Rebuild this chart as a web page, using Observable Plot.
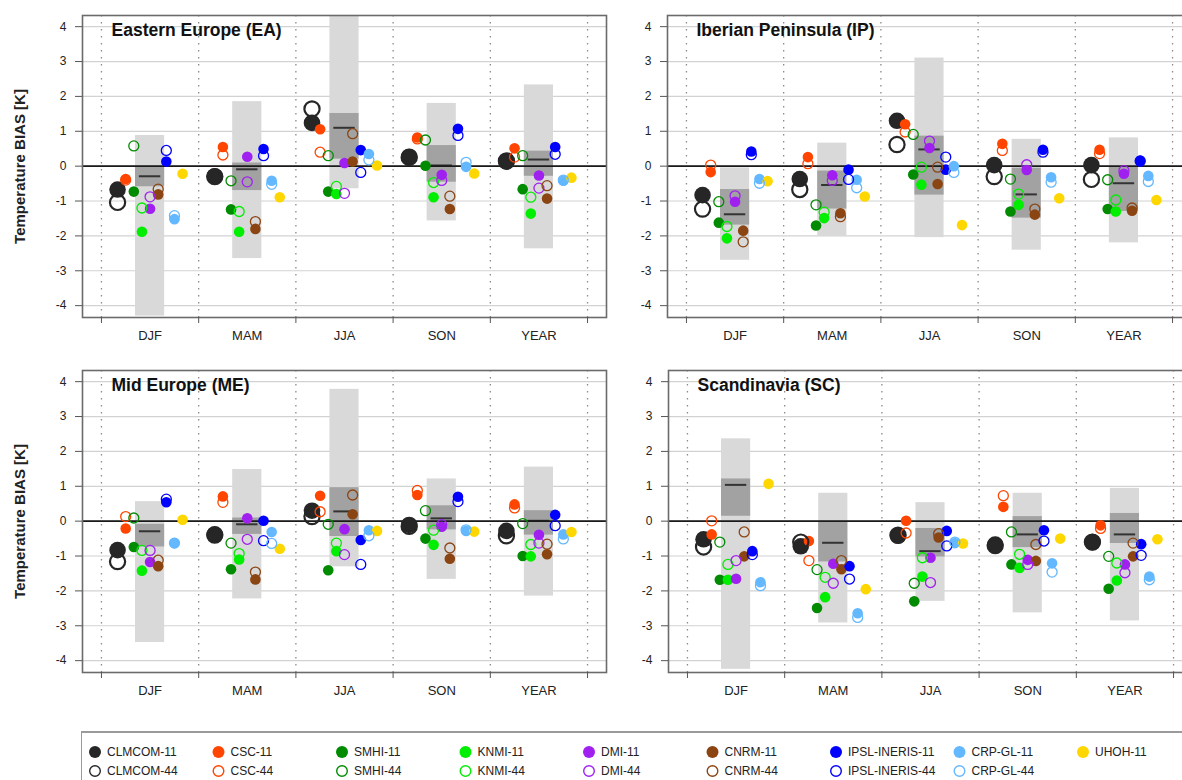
<!DOCTYPE html>
<html><head><meta charset="utf-8">
<script src="https://cdn.jsdelivr.net/npm/d3@7"></script>
<script src="https://cdn.jsdelivr.net/npm/@observablehq/plot@0.6"></script>
<style>
html,body{margin:0;padding:0;background:#fff;}
#wrap{position:relative;width:1182px;height:780px;overflow:hidden;font-family:"Liberation Sans",Arial,sans-serif;}
.panel{position:absolute;width:610px;height:350px;}
.panel svg{max-width:none !important;width:610px;height:350px;}
g[aria-label="y-axis label"] text{font-weight:bold;font-size:15px;}
#legend{position:absolute;left:81px;top:731px;width:1200px;height:60px;border-top:2px solid #9a9a9a;border-left:1px solid #9a9a9a;}
</style></head><body><div id="wrap"><div id="legend"></div></div>
<script>
// ---- data ----
const seasons = ["DJF", "MAM", "JJA", "SON", "YEAR"];
const models11 = ["CLMCOM-11", "CSC-11", "SMHI-11", "KNMI-11", "DMI-11", "CNRM-11", "IPSL-INERIS-11", "CRP-GL-11", "UHOH-11"];
const models44 = ["CLMCOM-44", "CSC-44", "SMHI-44", "KNMI-44", "DMI-44", "CNRM-44", "IPSL-INERIS-44", "CRP-GL-44"];
const modelColors = ["#262626", "#ff4500", "#008b00", "#00ee00", "#a020f0", "#8b4513", "#0000ff", "#63b8ff", "#ffd700"];
const regions = ["Eastern Europe (EA)", "Iberian Peninsula (IP)", "Mid Europe (ME)", "Scandinavia (SC)"];
const yTicks = [-4, -3, -2, -1, 0, 1, 2, 3, 4];

// values per season (rows) and model (columns)
const EA_11 = [
  [-0.67, -0.37, -0.73, -1.88, -1.22, -0.81, 0.13, -1.52, -0.22],
  [-0.29, 0.55, -1.24, -1.88, 0.27, -1.80, 0.49, -0.42, -0.89],
  [1.24, 1.06, -0.73, -0.80, 0.09, 0.13, 0.46, 0.35, 0.02],
  [0.27, 0.82, 0.01, -0.89, -0.25, -1.23, 1.07, -0.02, -0.21],
  [0.13, 0.51, -0.66, -1.36, -0.27, -0.93, 0.55, -0.42, -0.33]];
const EA_44 = [
  [-1.04, -0.40, 0.58, -1.20, -0.88, -0.66, 0.45, -1.42],
  [-0.30, 0.32, -0.42, -1.30, -0.45, -1.59, 0.30, -0.52],
  [1.64, 0.40, 0.30, -0.58, -0.78, 0.93, -0.18, 0.18],
  [0.25, 0.78, 0.75, -0.47, -0.41, -0.86, 0.88, 0.11],
  [0.15, 0.26, 0.30, -0.89, -0.63, -0.56, 0.34, -0.40]];
// [min, q1, median, q3, max]
const EA_box = [
  [-4.30, -0.59, -0.29, 0.00, 0.88],
  [-2.65, -0.70, -0.09, 0.09, 1.85],
  [-0.65, 0.20, 1.10, 1.51, 4.35],
  [-1.57, -0.46, 0.02, 0.59, 1.80],
  [-2.37, -0.29, 0.19, 0.43, 2.33]];

const IP_11 = [
  [-0.83, -0.17, -1.62, -2.07, -1.02, -1.85, 0.42, -0.37, -0.43],
  [-0.37, 0.26, -1.70, -1.49, -0.26, -1.35, -0.10, -0.39, -0.87],
  [1.30, 1.20, -0.24, -0.53, 0.52, -0.51, -0.10, 0.00, -1.69],
  [0.03, 0.64, -1.30, -1.11, -0.11, -1.39, 0.47, -0.32, -0.92],
  [0.03, 0.47, -1.23, -1.30, -0.22, -1.28, 0.16, -0.28, -0.97]];
const IP_44 = [
  [-1.23, 0.03, -1.02, -1.73, -0.85, -2.17, 0.33, -0.49],
  [-0.67, 0.07, -1.11, -1.32, -0.41, -1.45, -0.38, -0.62],
  [0.62, 0.98, 0.91, -0.03, 0.72, -0.03, 0.26, -0.18],
  [-0.30, 0.45, -0.37, -0.80, 0.04, -1.23, 0.40, -0.46],
  [-0.38, 0.36, -0.39, -0.97, -0.13, -1.20, 0.14, -0.44]];
const IP_box = [
  [-2.70, -1.69, -1.38, -0.67, -0.05],
  [-2.01, -1.23, -0.54, -0.14, 0.66],
  [-2.05, -0.83, 0.48, 0.86, 3.10],
  [-2.41, -1.49, -0.81, -0.06, 0.77],
  [-2.20, -1.30, -0.49, -0.03, 0.81]];

const ME_11 = [
  [-0.83, -0.21, -0.74, -1.42, -1.17, -1.29, 0.54, -0.63, 0.04],
  [-0.38, 0.71, -1.38, -1.10, 0.08, -1.67, 0.01, -0.31, -0.79],
  [0.30, 0.73, -1.41, -0.86, -0.23, 0.20, -0.54, -0.26, -0.28],
  [-0.11, 0.75, -0.50, -0.68, -0.16, -1.08, 0.70, -0.28, -0.30],
  [-0.28, 0.48, -1.00, -1.01, -0.39, -0.95, 0.18, -0.38, -0.31]];
const ME_44 = [
  [-1.16, 0.13, 0.09, -0.84, -0.84, -1.12, 0.63, -0.63],
  [-0.40, 0.54, -0.63, -0.93, -0.52, -1.46, -0.56, -0.64],
  [0.13, 0.27, -0.09, -0.63, -0.96, 0.75, -1.24, -0.42],
  [-0.15, 0.88, 0.30, -0.26, -0.10, -0.77, 0.56, -0.25],
  [-0.42, 0.38, -0.07, -0.67, -0.63, -0.66, -0.13, -0.51]];
const ME_box = [
  [-3.48, -0.74, -0.29, -0.09, 0.56],
  [-2.23, -0.38, -0.09, 0.09, 1.48],
  [-1.31, -0.44, 0.28, 0.96, 3.78],
  [-1.67, -0.25, 0.08, 0.44, 1.21],
  [-2.15, -0.40, 0.01, 0.30, 1.55]];

const SC_11 = [
  [-0.52, -0.38, -1.68, -1.68, -1.65, -1.01, -0.86, -1.75, 1.07],
  [-0.72, -0.57, -2.49, -2.18, -1.22, -1.38, -1.29, -2.64, -1.95],
  [-0.42, 0.01, -2.30, -1.59, -1.05, -0.47, -0.28, -0.63, -0.64],
  [-0.67, 0.41, -1.24, -1.34, -1.11, -1.14, -0.26, -1.21, -0.50],
  [-0.60, -0.12, -1.94, -1.70, -1.24, -1.01, -0.66, -1.59, -0.52]];
const SC_44 = [
  [-0.74, 0.01, -0.60, -1.24, -1.13, -0.31, -0.96, -1.85],
  [-0.60, -1.13, -1.39, -1.61, -1.78, -1.13, -1.66, -2.76],
  [-0.40, -0.34, -1.78, -1.05, -1.76, -0.36, -0.71, -0.60],
  [-0.70, 0.73, -0.31, -0.95, -1.24, -0.67, -0.57, -1.46],
  [-0.60, -0.21, -1.01, -1.20, -1.48, -0.63, -0.98, -1.68]];
const SC_box = [
  [-4.25, 0.14, 1.04, 1.21, 2.36],
  [-2.92, -1.17, -0.62, 0.00, 0.80],
  [-2.30, -1.03, -0.86, -0.21, 0.53],
  [-2.63, -0.76, -0.38, 0.13, 0.80],
  [-2.86, -0.64, -0.38, 0.22, 0.94]];

// ---- drawing ----
const step = 0.0836; // spacing of models within a season (x units)
function panel(title, v11, v44, box, showLabel) {
  const boxes = box.map((b, i) => ({i: i + 1, lo: b[0], q1: b[1], med: b[2], q3: b[3], hi: b[4]}));
  const pts11 = [], pts44 = [];
  v11.forEach((row, s) => row.forEach((v, m) => pts11.push({x: s + 1 + (m - 4) * step, y: v, c: modelColors[m], r: m === 0 ? 8.3 : 5.3})));
  v44.forEach((row, s) => row.forEach((v, m) => pts44.push({x: s + 1 + (m - 4) * step, y: v, c: modelColors[m], r: m === 0 ? 7.6 : 5.0, w: m === 0 ? 2.2 : 1.3})));
  const bounds = d3.range(0, 6).map(k => k + 0.5);
  return Plot.plot({
    width: 610, height: 350,
    marginLeft: 82, marginRight: 4, marginTop: 15, marginBottom: 33,
    style: {fontFamily: '"Liberation Sans", Arial, sans-serif', fontSize: "12px", background: "transparent", overflow: "visible", color: "#222"},
    x: {domain: [0.305, 5.695], axis: null},
    y: {domain: [-4.34, 4.32], axis: null},
    r: {type: "identity"},
    color: {type: "identity"},
    marks: [
      Plot.ruleY(yTicks, {stroke: "#d2d2d2", strokeWidth: 1.2}),
      Plot.ruleX(bounds, {stroke: "#8a8a8a", strokeWidth: 1.3, strokeDasharray: "1.5,5.5"}),
      Plot.rect(boxes, {x1: d => d.i - 0.15, x2: d => d.i + 0.15, y1: "lo", y2: "hi", fill: "#d9d9d9", clip: true}),
      Plot.rect(boxes, {x1: d => d.i - 0.15, x2: d => d.i + 0.15, y1: "q1", y2: "q3", fill: "#a2a2a2", clip: true}),
      Plot.ruleY(boxes, {x1: d => d.i - 0.11, x2: d => d.i + 0.11, y: "med", stroke: "#333", strokeWidth: 2}),
      Plot.ruleY([0], {stroke: "#1a1a1a", strokeWidth: 1.6}),
      Plot.dot(pts11, {x: "x", y: "y", r: "r", fill: "c", stroke: null}),
      Plot.dot(pts44, {x: "x", y: "y", r: "r", stroke: "c", strokeWidth: "w", fill: "none"}),
      Plot.frame({stroke: "#6b6b6b", strokeWidth: 1.6}),
      Plot.axisY(yTicks, {tickSize: 7, tickPadding: 9, tickFormat: d => String(d), fontSize: 12,
        stroke: "#555", label: showLabel ? "Temperature BIAS [K]" : null, labelAnchor: "center", labelArrow: "none", labelOffset: 68}),
      Plot.axisX(bounds, {tickSize: 6, tickFormat: () => "", stroke: "#555", label: null}),
      Plot.axisX([1, 2, 3, 4, 5], {tickSize: 0, tickPadding: 13, tickFormat: i => seasons[i - 1], fontSize: 13, label: null}),
      Plot.text([title], {frameAnchor: "top-left", dx: 29, dy: 8, textAnchor: "start", lineAnchor: "top", fontSize: 17.5, fontWeight: "bold", fill: "#111"})
    ]
  });
}

const wrap = document.getElementById("wrap");
const layout = [
  [regions[0], EA_11, EA_44, EA_box, true, 0, 0],
  [regions[1], IP_11, IP_44, IP_box, false, 585, 0],
  [regions[2], ME_11, ME_44, ME_box, true, 0, 355],
  [regions[3], SC_11, SC_44, SC_box, false, 586, 355]
];
for (const [t, a, b, bx, lab, left, top] of layout) {
  const d = document.createElement("div");
  d.className = "panel";
  d.style.left = left + "px";
  d.style.top = top + "px";
  d.appendChild(panel(t, a, b, bx, lab));
  wrap.appendChild(d);
}

// legend
const ns = "http://www.w3.org/2000/svg";
const lsvg = document.createElementNS(ns, "svg");
lsvg.setAttribute("width", 1120);
lsvg.setAttribute("height", 50);
lsvg.style.fontFamily = '"Liberation Sans", Arial, sans-serif';
lsvg.style.fontSize = "12px";
modelColors.forEach((c, m) => {
  const x = 13 + m * 123.5;
  const rows = [[models11[m], 19, true]];
  if (m < models44.length) rows.push([models44[m], 38, false]);
  for (const [name, y, filled] of rows) {
    const circ = document.createElementNS(ns, "circle");
    circ.setAttribute("cx", x); circ.setAttribute("cy", y);
    circ.setAttribute("r", filled ? 6 : 5.3);
    if (filled) circ.setAttribute("fill", c);
    else { circ.setAttribute("fill", "none"); circ.setAttribute("stroke", c); circ.setAttribute("stroke-width", 1.4); }
    lsvg.appendChild(circ);
    const tx = document.createElementNS(ns, "text");
    tx.setAttribute("x", x + 12); tx.setAttribute("y", y);
    tx.setAttribute("dy", "0.35em");
    tx.setAttribute("fill", "#222");
    tx.textContent = name;
    lsvg.appendChild(tx);
  }
});
document.getElementById("legend").appendChild(lsvg);
</script></body></html>
